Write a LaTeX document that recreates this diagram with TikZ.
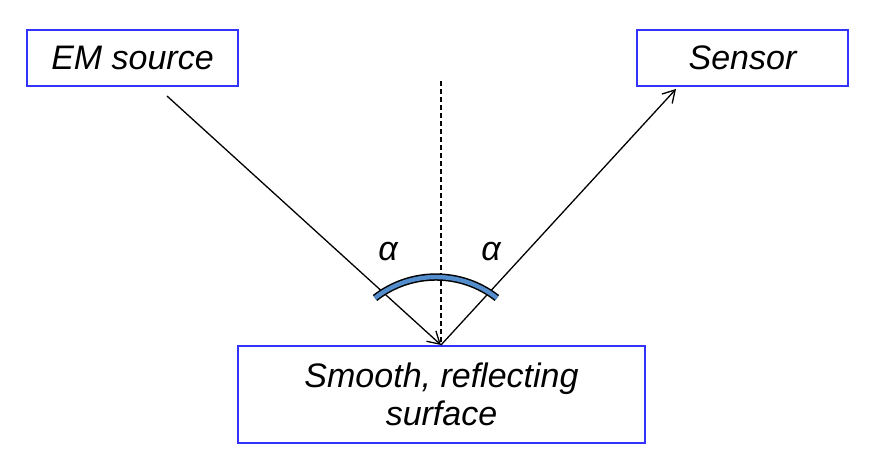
\documentclass[tikz,border=0pt]{standalone}
\usepackage{fontspec}
\setmainfont{Liberation Sans}
\usetikzlibrary{arrows.meta}
\definecolor{boxblue}{RGB}{51,51,255}
\definecolor{arcblue}{RGB}{84,141,204}

\begin{document}
\begin{tikzpicture}[
      x=1pt, y=-1pt,
      every node/.style={font=\itshape\fontsize{34}{38}\selectfont},
      labelbox/.style={draw=boxblue, line width=1.6pt, inner sep=0pt, align=center},
      ray/.style={line width=1.3pt, -{Straight Barb[length=12pt, width=14pt]}},
      normal/.style={line width=1.1pt, dash pattern=on 5pt off 3pt},
    ]
    \useasboundingbox (0,0) rectangle (875,471);
    \node[labelbox, minimum width=211pt, minimum height=56pt] (source) at (132.5,58) {EM source};
    \node[labelbox, minimum width=211pt, minimum height=56pt] (sensor) at (742.5,58) {Sensor};
    \node[labelbox, minimum width=407pt, minimum height=97pt] (surface) at (441.5,394.5) {Smooth, reflecting\\surface};
    \coordinate (hit) at (441,345);
    \coordinate (in) at (167,96);
    \coordinate (out) at (676,89);
    \coordinate (top) at (441,81);
    \draw[normal] (top) -- (hit);
    \draw[ray] (in) -- (hit);
    \draw[ray] (hit) -- (out);
    \draw[line width=7.4pt, line cap=butt] (375,298) arc[start angle=-128, end angle=-52, radius=99];
    \draw[arcblue, line width=4.4pt] (375,298) arc[start angle=-128, end angle=-52, radius=99];
    \node (alphaL) at (388,252) {α};
    \node (alphaR) at (491,252) {α};
\end{tikzpicture}
\end{document}
